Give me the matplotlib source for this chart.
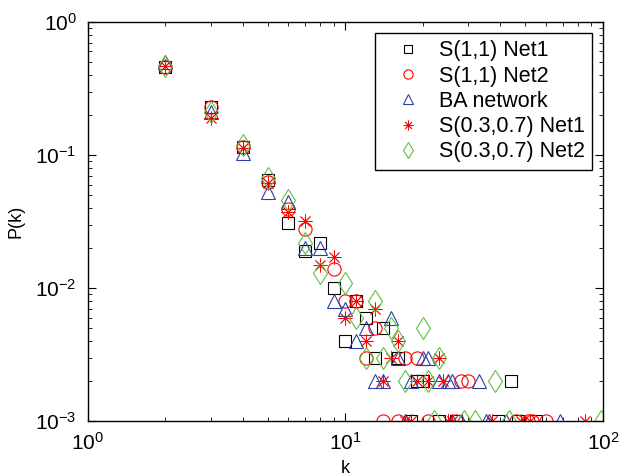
import matplotlib
matplotlib.use('Agg')
import matplotlib.pyplot as plt

plt.rcParams['font.family'] = ['Liberation Sans', 'DejaVu Sans']
plt.rcParams['font.size'] = 13

# Degree distributions
sq_k = [2, 3, 4, 5, 6, 7, 8, 9, 10, 11, 12, 13, 14, 16, 19, 20, 44,
        18, 23, 27, 39, 47, 55]
sq_p = [0.46, 0.23, 0.115, 0.065, 0.031, 0.019, 0.022, 0.010, 0.004, 0.008,
        0.006, 0.003, 0.005, 0.003, 0.002, 0.002, 0.002,
        0.001, 0.001, 0.001, 0.001, 0.001, 0.001]

ci_k = [2, 3, 4, 5, 6, 7, 9, 10, 11, 13, 12, 17, 19, 28, 30,
        14, 16, 21, 27, 46, 51, 53, 60]
ci_p = [0.46, 0.23, 0.115, 0.063, 0.039, 0.028, 0.014, 0.008, 0.008, 0.005,
        0.003, 0.003, 0.003, 0.002, 0.002,
        0.001, 0.001, 0.001, 0.001, 0.001, 0.001, 0.001, 0.001]

tr_k = [2, 3, 4, 5, 6, 7, 8, 9, 10, 11, 12, 15, 16, 20, 21,
        13, 14, 18, 23, 25, 26, 33,
        17, 26, 28, 35, 36, 42, 68]
tr_p = [0.50, 0.21, 0.103, 0.053, 0.044, 0.020, 0.020, 0.008, 0.007, 0.004,
        0.005, 0.006, 0.003, 0.003, 0.003,
        0.002, 0.002, 0.002, 0.002, 0.002, 0.002, 0.002,
        0.001, 0.001, 0.001, 0.001, 0.001, 0.001, 0.001]

st_k = [2, 3, 4, 5, 6, 7, 8, 9, 10, 11, 12, 13, 15, 16, 23,
        14, 19, 21, 24,
        17, 18, 25, 26, 37, 48, 52, 85]
st_p = [0.47, 0.19, 0.112, 0.062, 0.037, 0.032, 0.015, 0.017, 0.006, 0.008,
        0.004, 0.007, 0.003, 0.004, 0.003,
        0.002, 0.002, 0.002, 0.002,
        0.001, 0.001, 0.001, 0.001, 0.001, 0.001, 0.001, 0.001]

di_k = [2, 3, 4, 5, 6, 7, 8, 10, 11, 12, 13, 14, 15, 16, 20, 23,
        17, 21, 38,
        22, 29, 32, 43, 98]
di_p = [0.47, 0.21, 0.118, 0.067, 0.046, 0.022, 0.013, 0.011, 0.006, 0.003,
        0.008, 0.003, 0.005, 0.004, 0.005, 0.003,
        0.002, 0.002, 0.002,
        0.001, 0.001, 0.001, 0.001, 0.001]

fig = plt.figure(figsize=(6.32, 4.76), dpi=100)
ax = fig.add_axes([0.139, 0.115, 0.815, 0.839])

ax.plot(sq_k, sq_p, 's', mfc='none', mec='black', ms=8, mew=0.8, label='S(1,1) Net1')
ax.plot(ci_k, ci_p, 'o', mfc='none', mec='red', ms=9.5, mew=0.8, label='S(1,1) Net2')
ax.plot(tr_k, tr_p, '^', mfc='none', mec='#2a3fa6', ms=9.5, mew=0.8, label='BA network')
ax.plot(st_k, st_p, ls='none', marker=(8, 2, 0), mec='red', ms=10, mew=0.6,
        label='S(0.3,0.7) Net1')
ax.plot(di_k, di_p, 'd', mfc='none', mec='#5fc040', ms=11.5, mew=0.8,
        label='S(0.3,0.7) Net2')

ax.set_xscale('log')
ax.set_yscale('log')
ax.set_xlim(1, 100)
ax.set_ylim(1e-3, 1)
ax.set_xlabel('k', labelpad=4)
ax.set_ylabel('P(k)', labelpad=8)

ax.tick_params(which='both', direction='in', top=True, right=True, labelsize=15)
ax.tick_params(which='major', length=6, width=0.8, pad=8)
ax.tick_params(which='minor', length=3, width=0.6)
for s in ax.spines.values():
    s.set_linewidth(1.0)

leg = ax.legend(loc='upper right', fontsize=15.5, frameon=True, fancybox=False,
                edgecolor='black', framealpha=1, borderaxespad=0.5,
                borderpad=0.35, handlelength=2.4, handletextpad=0.2,
                labelspacing=0.2, markerscale=0.7)
leg.get_frame().set_linewidth(1.0)

fig.savefig('out.png', dpi=100)
